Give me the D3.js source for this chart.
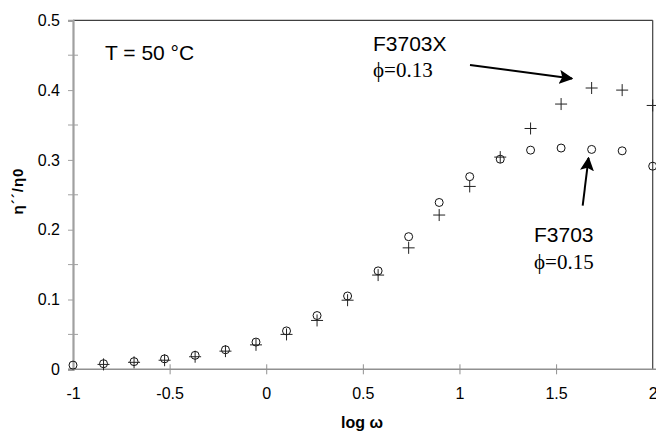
<!DOCTYPE html>
<html><head><meta charset="utf-8">
<script src="https://cdn.jsdelivr.net/npm/d3@7/dist/d3.min.js"></script>
<style>body{margin:0;background:#fff}svg{display:block}</style>
</head><body>
<script>
const logW = [-1, -0.842, -0.684, -0.526, -0.368, -0.211, -0.053, 0.105, 0.263, 0.421, 0.579, 0.737, 0.895, 1.053, 1.211, 1.368, 1.526, 1.684, 1.842, 2.0];
const f3703 = [0.006, 0.008, 0.011, 0.015, 0.020, 0.028, 0.039, 0.055, 0.077, 0.105, 0.141, 0.190, 0.239, 0.276, 0.301, 0.314, 0.317, 0.315, 0.313, 0.291];
const f3703x = [null, 0.007, 0.010, 0.013, 0.018, 0.026, 0.035, 0.050, 0.070, 0.099, 0.135, 0.174, 0.221, 0.262, 0.304, 0.345, 0.380, 0.403, 0.400, 0.378];
const xTicks = [-1, -0.5, 0, 0.5, 1, 1.5, 2];
const yTicks = [0, 0.1, 0.2, 0.3, 0.4, 0.5];
const yMinor = [0.05, 0.15, 0.25, 0.35, 0.45];

const W = 656, H = 432;
const svg = d3.select("body").append("svg").attr("width", W).attr("height", H);
const x = d3.scaleLinear().domain([-1, 2]).range([73, 652.7]);
const y = d3.scaleLinear().domain([0, 0.5]).range([369.3, 20.3]);
const font = "'Liberation Sans', Arial, sans-serif";
const serif = "'Liberation Serif', 'Times New Roman', serif";

// frame (top and right)
svg.append("line").attr("x1", x(-1)).attr("x2", x(2)).attr("y1", y(0.5)).attr("y2", y(0.5))
  .attr("stroke", "#404040").attr("stroke-width", 1.2);
svg.append("line").attr("x1", x(2)).attr("x2", x(2)).attr("y1", y(0.5)).attr("y2", y(0))
  .attr("stroke", "#404040").attr("stroke-width", 1.2);

// y axis
const gy = svg.append("g").attr("transform", `translate(${x(-1)},0)`)
  .call(d3.axisLeft(y).tickValues(yTicks).tickSize(5).tickPadding(8)
    .tickFormat(d => d === 0 ? "0" : d3.format(".1f")(d)));
gy.select(".domain").attr("stroke", "#a0a0a0").attr("stroke-width", 2.2);
gy.selectAll(".tick line").attr("stroke", "#a0a0a0");
gy.selectAll(".tick text").attr("font-family", font).attr("font-size", 16).attr("fill", "#000");
gy.selectAll(".minor").data(yMinor).enter().append("line").attr("class", "minor")
  .attr("x1", -5).attr("x2", 5).attr("y1", d => y(d)).attr("y2", d => y(d))
  .attr("stroke", "#a0a0a0");

// x axis
const gx = svg.append("g").attr("transform", `translate(0,${y(0)})`)
  .call(d3.axisBottom(x).tickValues(xTicks).tickSize(5).tickPadding(13)
    .tickFormat(d => String(d)));
gx.select(".domain").attr("stroke", "#909090").attr("stroke-width", 1.6)
  .attr("d", `M${x(-1) - 5},0H${W}`);
gx.selectAll(".tick line").attr("stroke", "#909090").attr("y1", -5).attr("y2", 5)
  .filter(d => d === -1 || d === 2).remove();
gx.selectAll(".tick text").attr("font-family", font).attr("font-size", 16).attr("fill", "#000");

// axis titles
svg.append("text").attr("x", 362).attr("y", 428).attr("text-anchor", "middle")
  .attr("font-family", font).attr("font-weight", "bold").attr("font-size", 16).text("log ω");
svg.append("text").attr("transform", "translate(23,191) rotate(-90)").attr("text-anchor", "middle")
  .attr("font-family", font).attr("font-weight", "bold").attr("font-size", 15)
  .attr("letter-spacing", 1).text("η´´/η0");

// data: circles (F3703)
const circData = logW.map((v, i) => ({x: v, y: f3703[i]}));
svg.append("g").selectAll("circle").data(circData).enter().append("circle")
  .attr("cx", d => x(d.x)).attr("cy", d => y(d.y)).attr("r", 4)
  .attr("fill", "none").attr("stroke", "#111").attr("stroke-width", 1);

// data: plus (F3703X)
const plusData = logW.map((v, i) => ({x: v, y: f3703x[i]})).filter(d => d.y !== null);
svg.append("g").selectAll("path").data(plusData).enter().append("path")
  .attr("d", d => `M${x(d.x) - 6},${y(d.y)}h12M${x(d.x)},${y(d.y) - 6}v12`)
  .attr("fill", "none").attr("stroke", "#222").attr("stroke-width", 1);

// annotations
svg.append("text").attr("x", 105).attr("y", 60).attr("font-family", font).attr("font-size", 21).text("T = 50 °C");
svg.append("text").attr("x", 373).attr("y", 51).attr("font-family", font).attr("font-size", 21).text("F3703X");
svg.append("text").attr("x", 373).attr("y", 77).attr("font-family", serif).attr("font-size", 21).text("ϕ=0.13");
svg.append("text").attr("x", 534).attr("y", 242).attr("font-family", font).attr("font-size", 21).text("F3703");
svg.append("text").attr("x", 534).attr("y", 269).attr("font-family", serif).attr("font-size", 21).text("ϕ=0.15");

const defs = svg.append("defs");
defs.append("marker").attr("id", "ah").attr("viewBox", "0 0 10 10").attr("refX", 9).attr("refY", 5)
  .attr("markerWidth", 7).attr("markerHeight", 7).attr("markerUnits", "strokeWidth").attr("orient", "auto")
  .append("path").attr("d", "M0,0L10,5L0,10L2,5Z").attr("fill", "#000");
svg.append("line").attr("x1", 470).attr("y1", 65).attr("x2", 572).attr("y2", 78.5)
  .attr("stroke", "#000").attr("stroke-width", 2).attr("marker-end", "url(#ah)");
svg.append("line").attr("x1", 582.7).attr("y1", 205.7).attr("x2", 588.5).attr("y2", 158)
  .attr("stroke", "#000").attr("stroke-width", 2).attr("marker-end", "url(#ah)");
</script>
</body></html>
